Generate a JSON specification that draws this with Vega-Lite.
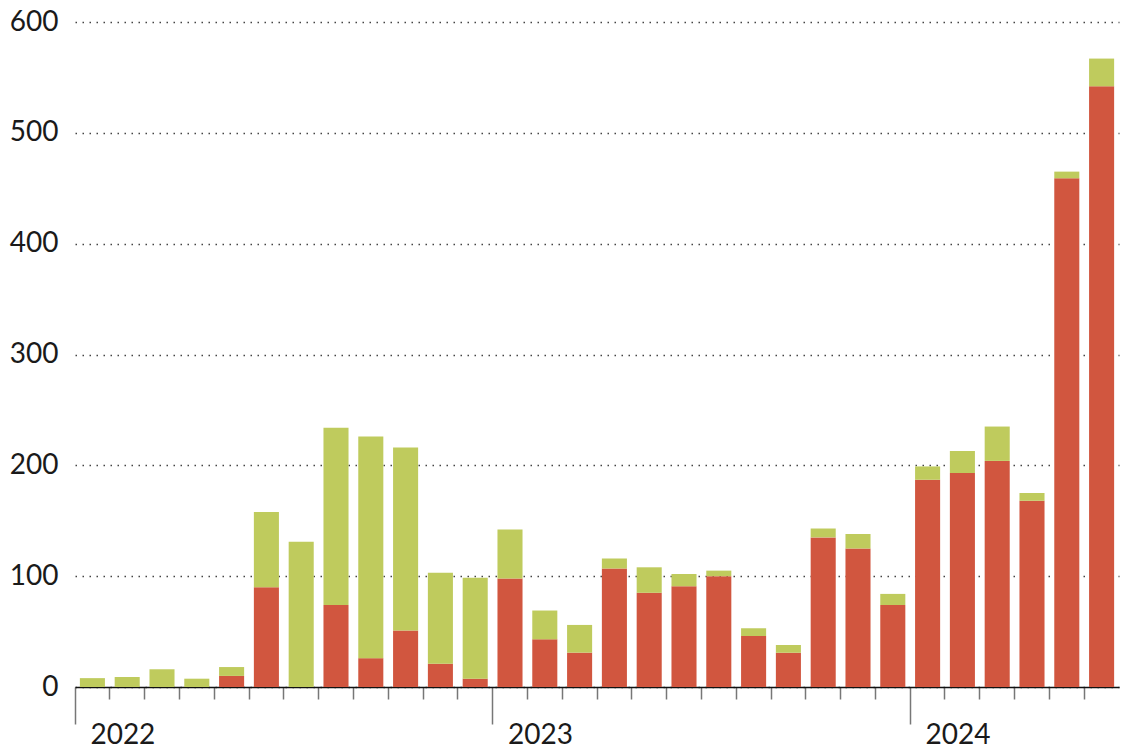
{
  "$schema": "https://vega.github.io/schema/vega-lite/v6.json",
  "autosize": "none",
  "width": 1051,
  "height": 665,
  "padding": {"left": 75, "top": 22, "right": 0, "bottom": 62},
  "background": "white",
  "config": {
    "view": {"stroke": null},
    "axis": {"labelFont": "Lato", "labelFontSize": 28, "labelColor": "#1a1a1a"}
  },
  "data": {
    "values": [
      {"month": "2022-01", "type": "a", "value": 0}, {"month": "2022-01", "type": "b", "value": 8},
      {"month": "2022-02", "type": "a", "value": 0}, {"month": "2022-02", "type": "b", "value": 9},
      {"month": "2022-03", "type": "a", "value": 0}, {"month": "2022-03", "type": "b", "value": 16},
      {"month": "2022-04", "type": "a", "value": 0}, {"month": "2022-04", "type": "b", "value": 7.5},
      {"month": "2022-05", "type": "a", "value": 10}, {"month": "2022-05", "type": "b", "value": 8},
      {"month": "2022-06", "type": "a", "value": 90}, {"month": "2022-06", "type": "b", "value": 68},
      {"month": "2022-07", "type": "a", "value": 0}, {"month": "2022-07", "type": "b", "value": 131},
      {"month": "2022-08", "type": "a", "value": 74}, {"month": "2022-08", "type": "b", "value": 160},
      {"month": "2022-09", "type": "a", "value": 26}, {"month": "2022-09", "type": "b", "value": 200},
      {"month": "2022-10", "type": "a", "value": 51}, {"month": "2022-10", "type": "b", "value": 165},
      {"month": "2022-11", "type": "a", "value": 21}, {"month": "2022-11", "type": "b", "value": 82},
      {"month": "2022-12", "type": "a", "value": 7.5}, {"month": "2022-12", "type": "b", "value": 91},
      {"month": "2023-01", "type": "a", "value": 98}, {"month": "2023-01", "type": "b", "value": 44},
      {"month": "2023-02", "type": "a", "value": 43}, {"month": "2023-02", "type": "b", "value": 26},
      {"month": "2023-03", "type": "a", "value": 31}, {"month": "2023-03", "type": "b", "value": 25},
      {"month": "2023-04", "type": "a", "value": 107}, {"month": "2023-04", "type": "b", "value": 9},
      {"month": "2023-05", "type": "a", "value": 85}, {"month": "2023-05", "type": "b", "value": 23},
      {"month": "2023-06", "type": "a", "value": 91}, {"month": "2023-06", "type": "b", "value": 11},
      {"month": "2023-07", "type": "a", "value": 100}, {"month": "2023-07", "type": "b", "value": 5},
      {"month": "2023-08", "type": "a", "value": 46}, {"month": "2023-08", "type": "b", "value": 7},
      {"month": "2023-09", "type": "a", "value": 31}, {"month": "2023-09", "type": "b", "value": 7},
      {"month": "2023-10", "type": "a", "value": 135}, {"month": "2023-10", "type": "b", "value": 8},
      {"month": "2023-11", "type": "a", "value": 125}, {"month": "2023-11", "type": "b", "value": 13},
      {"month": "2023-12", "type": "a", "value": 74}, {"month": "2023-12", "type": "b", "value": 10},
      {"month": "2024-01", "type": "a", "value": 187}, {"month": "2024-01", "type": "b", "value": 12},
      {"month": "2024-02", "type": "a", "value": 193}, {"month": "2024-02", "type": "b", "value": 20},
      {"month": "2024-03", "type": "a", "value": 204}, {"month": "2024-03", "type": "b", "value": 31},
      {"month": "2024-04", "type": "a", "value": 168}, {"month": "2024-04", "type": "b", "value": 7},
      {"month": "2024-05", "type": "a", "value": 459}, {"month": "2024-05", "type": "b", "value": 6},
      {"month": "2024-06", "type": "a", "value": 542}, {"month": "2024-06", "type": "b", "value": 25}
    ]
  },
  "mark": {"type": "bar", "width": {"band": 0.72}},
  "encoding": {
    "x": {
      "field": "month",
      "type": "ordinal",
      "title": null,
      "scale": {"range": [0, 1044], "paddingInner": 0, "paddingOuter": 0},
      "axis": {
        "bandPosition": 0,
        "domainColor": "#111111",
        "domainWidth": 1.5,
        "tickColor": "#777777",
        "tickWidth": 1.5,
        "tickSize": {"condition": {"test": "slice(datum.value,5)=='01'", "value": 37}, "value": 12},
        "labelAngle": 0,
        "labelAlign": "left",
        "labelBaseline": "top",
        "labelOffset": -2,
        "labelPadding": -3,
        "labelExpr": "slice(datum.value,5)=='01' ? slice(datum.value,0,4) : ''",
        "grid": false
      }
    },
    "y": {
      "field": "value",
      "type": "quantitative",
      "aggregate": "sum",
      "stack": "zero",
      "title": null,
      "scale": {"domain": [0, 600], "nice": false},
      "axis": {
        "values": [0, 100, 200, 300, 400, 500, 600],
        "domain": false,
        "ticks": false,
        "labelPadding": 17,
        "grid": true,
        "gridDash": [1.5, 5.5],
        "gridColor": "#444444",
        "gridWidth": 1.5
      }
    },
    "color": {
      "field": "type",
      "type": "nominal",
      "scale": {"domain": ["a", "b"], "range": ["#d1563f", "#bfcb5d"]},
      "legend": null
    },
    "order": {"field": "type", "sort": "ascending"}
  }
}
